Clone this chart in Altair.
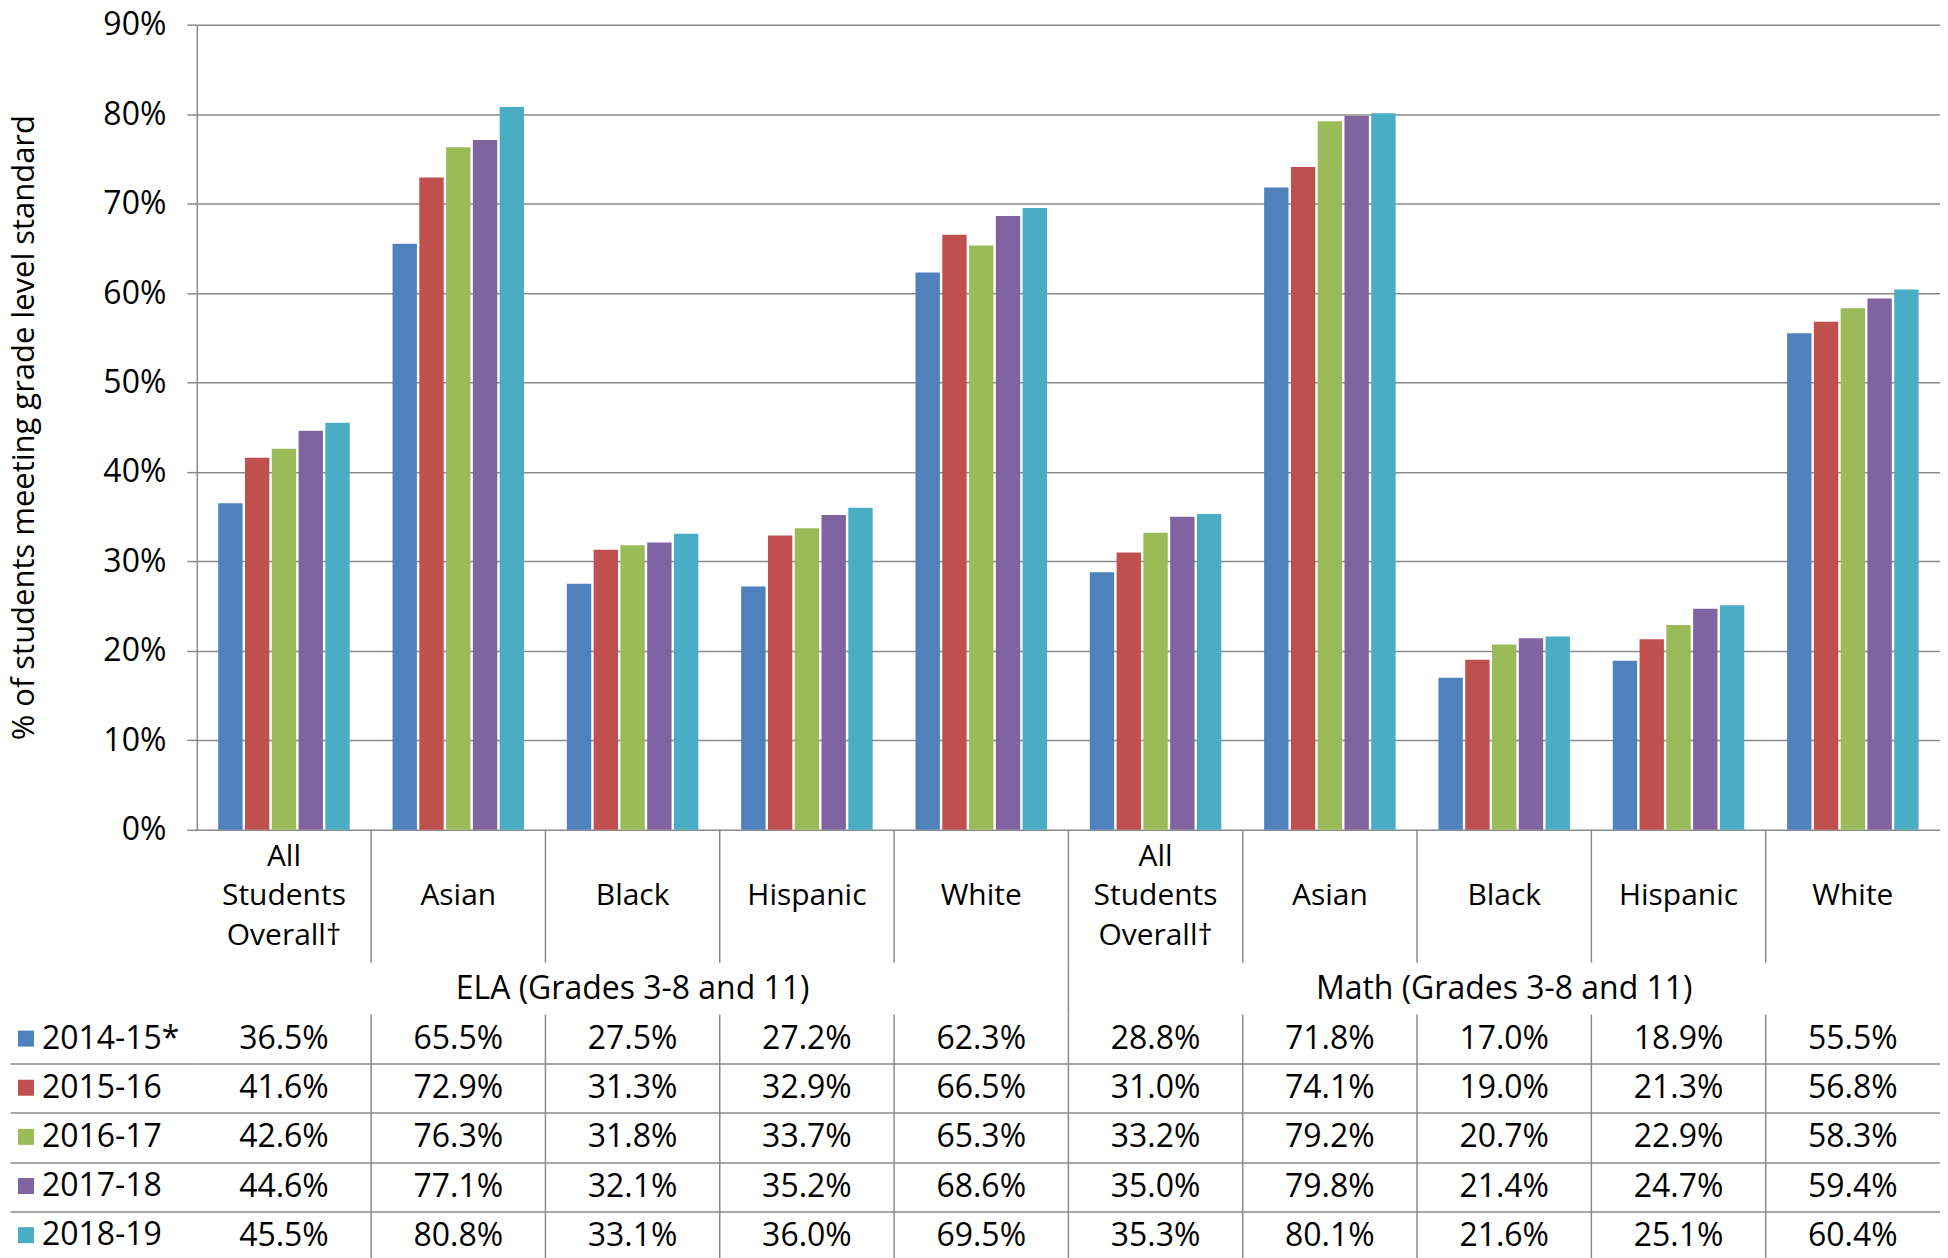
import altair as alt
import pandas as pd

FONT = "Open Sans"
GRID = "#8a8a8a"

subjects = ["ELA", "Math"]
subject_titles = ["ELA (Grades 3-8 and 11)", "Math (Grades 3-8 and 11)"]
groups = ["All Students Overall†", "Asian", "Black", "Hispanic", "White"]
# three-line slot for every label so all blocks are centred alike
group_labels = ["All\nStudents\nOverall†", "\nAsian", "\nBlack", "\nHispanic", "\nWhite"]
years = ["2014-15*", "2015-16", "2016-17", "2017-18", "2018-19"]
colors = ["#4F81BD", "#C0504D", "#9BBB59", "#8064A2", "#4BACC6"]

# values in percent, order: groups
ela_2014_15 = [36.5, 65.5, 27.5, 27.2, 62.3]
ela_2015_16 = [41.6, 72.9, 31.3, 32.9, 66.5]
ela_2016_17 = [42.6, 76.3, 31.8, 33.7, 65.3]
ela_2017_18 = [44.6, 77.1, 32.1, 35.2, 68.6]
ela_2018_19 = [45.5, 80.8, 33.1, 36.0, 69.5]
math_2014_15 = [28.8, 71.8, 17.0, 18.9, 55.5]
math_2015_16 = [31.0, 74.1, 19.0, 21.3, 56.8]
math_2016_17 = [33.2, 79.2, 20.7, 22.9, 58.3]
math_2017_18 = [35.0, 79.8, 21.4, 24.7, 59.4]
math_2018_19 = [35.3, 80.1, 21.6, 25.1, 60.4]

series = {
    "ELA": [ela_2014_15, ela_2015_16, ela_2016_17, ela_2017_18, ela_2018_19],
    "Math": [math_2014_15, math_2015_16, math_2016_17, math_2017_18, math_2018_19],
}

keys = [f"{s}|{g}" for s in subjects for g in groups]
rows = []
for s in subjects:
    for yi, yr in enumerate(years):
        for gi, g in enumerate(groups):
            v = series[s][yi][gi]
            rows.append({"key": f"{s}|{g}", "year": yr, "value": v / 100.0,
                         "label": f"{v:.1f}%"})
df = pd.DataFrame(rows)

cat_df = pd.DataFrame({"key": keys, "label": group_labels * 2})
sep_df = pd.DataFrame({"key": keys[1:]})
subj_df = pd.DataFrame({"key": [f"{s}|Black" for s in subjects], "title": subject_titles})
mid_sep_df = pd.DataFrame({"key": ["Math|" + groups[0]]})

W = 1745
ROW_H = 49.2
xscale = alt.Scale(domain=keys, paddingInner=0, paddingOuter=0)

bars = alt.Chart(df).mark_bar().encode(
    x=alt.X("key:N", scale=xscale, axis=None),
    xOffset=alt.XOffset("year:N", scale=alt.Scale(domain=years, paddingInner=0.09, paddingOuter=0.8)),
    y=alt.Y("value:Q",
            scale=alt.Scale(domain=[0, 0.9], nice=False),
            axis=alt.Axis(format=".0%", values=[i / 10 for i in range(10)],
                          title="% of students meeting grade level standard",
                          tickSize=10, labelPadding=21, titlePadding=62, titleFontSize=31,
                          grid=True, gridColor=GRID, gridWidth=1.5,
                          tickColor=GRID, tickWidth=1.5,
                          domainColor=GRID, domainWidth=1.5)),
    color=alt.Color("year:N", scale=alt.Scale(domain=years, range=colors),
                    legend=alt.Legend(orient="none", legendX=-187, legendY=999,
                                      title=None, symbolType="square", symbolSize=256,
                                      symbolStrokeWidth=0, labelFontSize=32, labelFont=FONT,
                                      labelColor="black", rowPadding=ROW_H - 32, labelOffset=0,
                                      padding=0)),
).properties(width=W, height=806)

cat_band = alt.layer(
    alt.Chart(sep_df).mark_rule(color=GRID, strokeWidth=1.5).encode(
        x=alt.X("key:N", bandPosition=0, scale=xscale, axis=None)),
    alt.Chart(cat_df).mark_text(font=FONT, fontSize=30, lineBreak="\n", lineHeight=39.5,
                                baseline="middle", dy=-39.5, color="black").encode(
        x=alt.X("key:N", scale=xscale, axis=None), text="label:N"),
).properties(width=W, height=133)

subj_band = alt.layer(
    alt.Chart(mid_sep_df).mark_rule(color=GRID, strokeWidth=1.5).encode(
        x=alt.X("key:N", bandPosition=0, scale=xscale, axis=None)),
    alt.Chart(subj_df).mark_text(font=FONT, fontSize=32, baseline="middle", color="black").encode(
        x=alt.X("key:N", scale=xscale, axis=None), text="title:N"),
).properties(width=W, height=52)

table = alt.layer(
    alt.Chart(sep_df).mark_rule(color=GRID, strokeWidth=1.5).encode(
        x=alt.X("key:N", bandPosition=0, scale=xscale, axis=None)),
    alt.Chart(df).mark_text(font=FONT, fontSize=32, baseline="middle", color="black").encode(
        x=alt.X("key:N", scale=xscale, axis=None),
        y=alt.Y("year:N", scale=alt.Scale(domain=years, paddingInner=0, paddingOuter=0),
                axis=alt.Axis(values=years[1:], tickOffset=-ROW_H / 2, grid=True, gridColor=GRID,
                              gridWidth=1.5, ticks=True, tickSize=187, tickColor=GRID,
                              tickWidth=1.5, labels=False, domain=False, title=None)),
        text="label:N"),
).properties(width=W, height=5 * ROW_H)

chart = alt.vconcat(bars, cat_band, subj_band, table, spacing=0, bounds="flush").properties(
    padding=0
).configure_axis(
    labelFont=FONT, titleFont=FONT, labelFontSize=32, titleFontSize=31,
    labelColor="black", titleColor="black", titleFontWeight="normal"
).configure_view(stroke=None)

chart.save("out.html", embed_options={"renderer": "svg", "actions": False})
